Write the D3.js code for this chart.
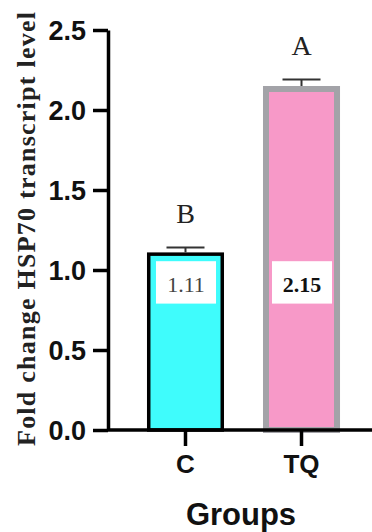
<!DOCTYPE html>
<html>
<head>
<meta charset="utf-8">
<script src="https://cdn.jsdelivr.net/npm/d3@7"></script>
<style>
  body { margin: 0; background: #fff; }
  svg { display: block; }
</style>
</head>
<body>
<svg id="chart" width="372" height="532"></svg>
<script>
// --- data ---
const groups = ["C", "TQ"];
const means = [1.11, 2.15];
const errors = [0.03, 0.04];
const letters = ["B", "A"];
const yTicks = [0, 0.5, 1.0, 1.5, 2.0, 2.5];

const fills = ["#3ffcfc", "#f799c8"];
const strokes = ["#000000", "#a3a3a8"];
const strokeW = [3.5, 6];

const svg = d3.select("#chart");

const x = d3.scaleBand().domain(groups).range([108, 379]).padding(0.336);
const y = d3.scaleLinear().domain([0, 2.5]).range([430, 30]);

// bars (stroke kept inside the band)
groups.forEach((g, i) => {
  const sw = strokeW[i];
  svg.append("rect")
    .attr("x", x(g) + sw / 2)
    .attr("y", y(means[i]) + sw / 2)
    .attr("width", x.bandwidth() - sw)
    .attr("height", y(0) - y(means[i]) - sw / 2)
    .attr("fill", fills[i])
    .attr("stroke", strokes[i])
    .attr("stroke-width", sw);
});

// error bars (upper only)
groups.forEach((g, i) => {
  const cx = x(g) + x.bandwidth() / 2;
  const top = y(means[i] + errors[i]);
  svg.append("line")
    .attr("x1", cx).attr("x2", cx)
    .attr("y1", y(means[i])).attr("y2", top)
    .attr("stroke", "#333").attr("stroke-width", 2);
  svg.append("line")
    .attr("x1", cx - 19).attr("x2", cx + 19)
    .attr("y1", top).attr("y2", top)
    .attr("stroke", "#333").attr("stroke-width", 2);
});

// white value boxes inside bars
const boxTop = y(1.055), boxBot = y(0.79);
groups.forEach((g, i) => {
  const bx = x(g) + 9;
  const bw = x.bandwidth() - 17;
  svg.append("rect")
    .attr("x", bx).attr("y", boxTop)
    .attr("width", bw).attr("height", boxBot - boxTop)
    .attr("fill", "#fff");
  svg.append("text")
    .attr("x", bx + bw / 2)
    .attr("y", boxTop + 31)
    .attr("text-anchor", "middle")
    .style("font-family", "'Liberation Serif', 'Times New Roman', serif")
    .style("font-size", "22px")
    .style("font-weight", i === 1 ? "bold" : "normal")
    .attr("fill", i === 1 ? "#111" : "#444")
    .text(means[i].toFixed(2));
});

// significance letters
groups.forEach((g, i) => {
  svg.append("text")
    .attr("x", x(g) + x.bandwidth() / 2)
    .attr("y", y(means[i] + errors[i]) - 25)
    .attr("text-anchor", "middle")
    .style("font-family", "'Liberation Serif', 'Times New Roman', serif")
    .style("font-size", "28px")
    .attr("fill", "#222")
    .text(letters[i]);
});

// y axis
const yAxis = svg.append("g")
  .attr("transform", "translate(108,0)")
  .call(d3.axisLeft(y).tickValues(yTicks).tickFormat(d3.format(".1f")).tickSize(15).tickSizeOuter(0).tickPadding(7));
yAxis.select(".domain").attr("stroke-width", 3.5);
yAxis.selectAll(".tick line").attr("stroke-width", 3.5);
yAxis.selectAll(".tick text")
  .attr("dy", "0.36em")
  .style("font-family", "'Liberation Sans', Arial, sans-serif")
  .style("font-size", "27px")
  .style("font-weight", "bold")
  .attr("fill", "#111");

// x axis
const xAxis = svg.append("g")
  .attr("transform", "translate(0,430)")
  .call(d3.axisBottom(x).tickSize(16).tickSizeOuter(0).tickPadding(9));
xAxis.select(".domain").attr("stroke-width", 3.5).attr("d", "M108,0H379");
xAxis.selectAll(".tick line").attr("stroke-width", 3.5);
xAxis.selectAll(".tick text")
  .style("font-family", "'Liberation Sans', Arial, sans-serif")
  .style("font-size", "26px")
  .style("font-weight", "bold")
  .attr("fill", "#111");

// axis titles
svg.append("text")
  .attr("x", 241)
  .attr("y", 525)
  .attr("text-anchor", "middle")
  .style("font-family", "'Liberation Sans', Arial, sans-serif")
  .style("font-size", "31px")
  .style("font-weight", "bold")
  .attr("fill", "#111")
  .text("Groups");

svg.append("text")
  .attr("transform", "translate(35,229) rotate(-90)")
  .attr("text-anchor", "middle")
  .attr("textLength", 434)
  .attr("lengthAdjust", "spacing")
  .style("font-family", "'Liberation Serif', 'Times New Roman', serif")
  .style("font-size", "26px")
  .style("font-weight", "bold")
  .attr("fill", "#222")
  .text("Fold change HSP70  transcript level");
</script>
</body>
</html>
